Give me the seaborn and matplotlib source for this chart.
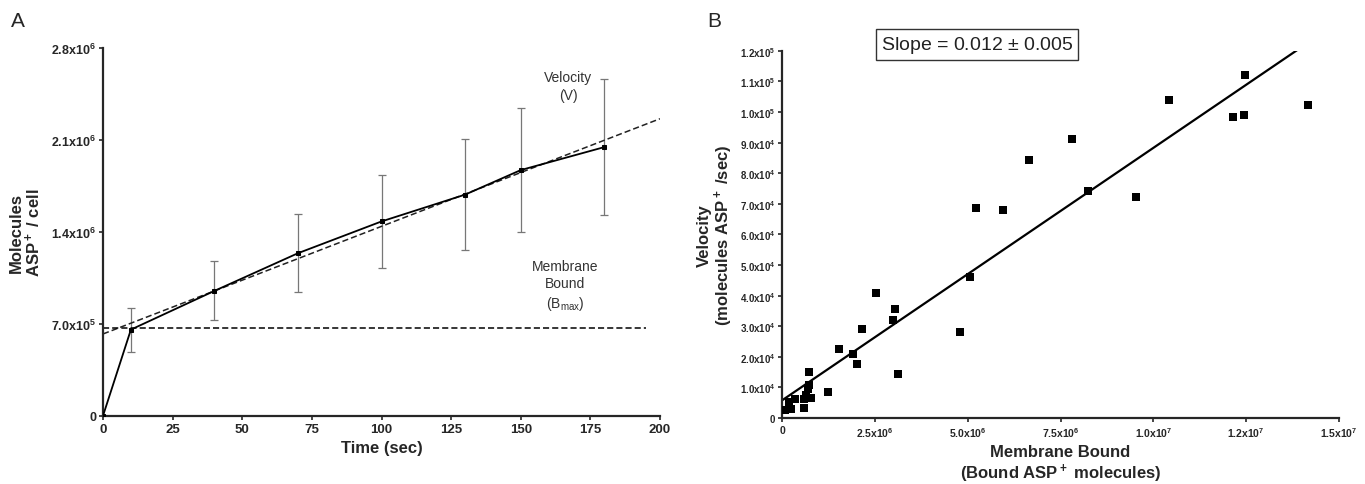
import numpy as np
import pandas as pd
import matplotlib.pyplot as plt
import seaborn as sns

# Data
# --------------

# Panel A: uptake time course
time_sec = [0, 10, 40, 70, 100, 130, 150, 180]
molecules = [0, 0.655e6, 0.95e6, 1.237e6, 1.479e6, 1.683e6, 1.870e6, 2.045e6]
molecules_err = [0, 0.167e6, 0.225e6, 0.295e6, 0.356e6, 0.42e6, 0.473e6, 0.52e6]

velocity_line_x = [0, 200]
velocity_line_y = [0.622e6, 2.261e6]
bmax_line_x = [0, 195]
bmax_line_y = [0.666e6, 0.666e6]

a_xticks = [0, 25, 50, 75, 100, 125, 150, 175, 200]
a_yticks = [0, 0.7e6, 1.4e6, 2.1e6, 2.8e6]
a_yticklabels = ["0", r"7.0x10$^5$", r"1.4x10$^6$", r"2.1x10$^6$", r"2.8x10$^6$"]

# Panel B: velocity vs membrane bound
bound = [14.17e6, 12.47e6, 12.43e6, 12.14e6, 10.41e6, 7.82e6, 6.64e6, 8.23e6,
         9.52e6, 5.21e6, 5.95e6, 5.07e6, 4.79e6, 2.54e6, 3.03e6, 2.99e6,
         2.16e6, 1.54e6, 1.92e6, 2.02e6, 3.12e6, 1.23e6, 0.72e6, 0.72e6,
         0.69e6, 0.63e6, 0.77e6, 0.60e6, 0.60e6, 0.35e6, 0.18e6, 0.24e6, 0.07e6]
velocity = [10.23e4, 11.21e4, 9.90e4, 9.85e4, 10.39e4, 9.11e4, 8.44e4, 7.41e4,
            7.24e4, 6.88e4, 6.81e4, 4.60e4, 2.82e4, 4.10e4, 3.56e4, 3.19e4,
            2.92e4, 2.26e4, 2.10e4, 1.76e4, 1.43e4, 0.85e4, 1.50e4, 1.09e4,
            0.94e4, 0.76e4, 0.64e4, 0.63e4, 0.34e4, 0.63e4, 0.52e4, 0.28e4, 0.25e4]

fit_x = [0, 1.39e7]
fit_y = [5800, 120500]

b_xticks = [0, 2.5e6, 5.0e6, 7.5e6, 1.0e7, 1.25e7, 1.5e7]
b_xticklabels = ["0", r"2.5x10$^6$", r"5.0x10$^6$", r"7.5x10$^6$",
                 r"1.0x10$^7$", r"1.2x10$^7$", r"1.5x10$^7$"]
b_yticks = [i * 1e4 for i in range(13)]
b_yticklabels = ["0"] + [rf"{i}.0x10$^4$" for i in range(1, 10)] + \
                [r"1.0x10$^5$", r"1.1x10$^5$", r"1.2x10$^5$"]

# Set-up
# --------------
sns.set_theme(style="ticks")
plt.rcParams["font.family"] = ["Liberation Sans", "DejaVu Sans"]
plt.rcParams["mathtext.default"] = "regular"
plt.rcParams["axes.linewidth"] = 1.6

fig = plt.figure(figsize=(13.65, 4.85), dpi=100)
ax_a = fig.add_axes([0.0755, 0.141, 0.408, 0.758])
ax_b = fig.add_axes([0.573, 0.136, 0.408, 0.757])

# Panel A
# --------------
df_a = pd.DataFrame({"time": time_sec, "mol": molecules})
ax_a.errorbar(time_sec[1:], molecules[1:], yerr=molecules_err[1:], fmt="none",
              ecolor="#777777", elinewidth=0.9, capsize=3, capthick=0.9, zorder=1)
sns.lineplot(data=df_a, x="time", y="mol", ax=ax_a, color="black", lw=1.3,
             marker="s", markersize=3.5, markeredgecolor="black", zorder=3)
sns.lineplot(x=velocity_line_x, y=velocity_line_y, ax=ax_a, color="#222222",
             lw=1.1, linestyle=(0, (4, 2)), zorder=2)
sns.lineplot(x=bmax_line_x, y=bmax_line_y, ax=ax_a, color="black",
             lw=1.1, linestyle=(0, (4, 2)), zorder=2)

ax_a.set_xlim(0, 200)
ax_a.set_ylim(0, 2.8e6)
ax_a.set_xticks(a_xticks)
ax_a.set_xticklabels([str(t) for t in a_xticks], fontweight="bold", fontsize=9.5)
ax_a.set_yticks(a_yticks)
ax_a.set_yticklabels(a_yticklabels, fontweight="bold", fontsize=9)
ax_a.set_xlabel("Time (sec)", fontweight="bold", fontsize=12, labelpad=4)
ax_a.set_ylabel("Molecules\nASP$^+$ / cell", fontweight="bold", fontsize=12,
                labelpad=6, linespacing=1.0)
ax_a.text(167, 2.51e6, "Velocity\n(V)", ha="center", va="center",
          fontsize=10, color="#333333", linespacing=1.3)
ax_a.text(166, 0.99e6, "Membrane\nBound\n(B$_{max}$)", ha="center", va="center",
          fontsize=10, color="#333333", linespacing=1.3)
ax_a.tick_params(length=3, width=1.2, pad=2)
sns.despine(ax=ax_a)

# Panel B
# --------------
df_b = pd.DataFrame({"bound": bound, "velocity": velocity})
sns.scatterplot(data=df_b, x="bound", y="velocity", ax=ax_b, marker="s",
                color="black", s=38, edgecolor="black", linewidth=0, zorder=3)
sns.lineplot(x=fit_x, y=fit_y, ax=ax_b, color="black", lw=1.6, zorder=2)

ax_b.set_xlim(0, 1.5e7)
ax_b.set_ylim(0, 1.2e5)
ax_b.set_xticks(b_xticks)
ax_b.set_xticklabels(b_xticklabels, fontweight="bold", fontsize=7.5)
ax_b.set_yticks(b_yticks)
ax_b.set_yticklabels(b_yticklabels, fontweight="bold", fontsize=7)
ax_b.set_xlabel("Membrane Bound\n(Bound ASP$^+$ molecules)", fontweight="bold",
                fontsize=12, labelpad=4, linespacing=1.15)
ax_b.set_ylabel("Velocity\n(molecules ASP$^+$ /sec)", fontweight="bold",
                fontsize=12, labelpad=3, linespacing=1.05)
ax_b.text(5.25e6, 1.22e5, "Slope = 0.012 $\\pm$ 0.005", ha="center", va="center",
          fontsize=14, color="#222222", clip_on=False,
          bbox=dict(boxstyle="square,pad=0.25", fc="white", ec="#333333", lw=1))
ax_b.tick_params(length=3, width=1.2, pad=2)
sns.despine(ax=ax_b)

# Panel letters
fig.text(0.008, 0.955, "A", fontsize=15, va="center")
fig.text(0.518, 0.955, "B", fontsize=15, va="center")

fig.savefig("out.png", dpi=100)
